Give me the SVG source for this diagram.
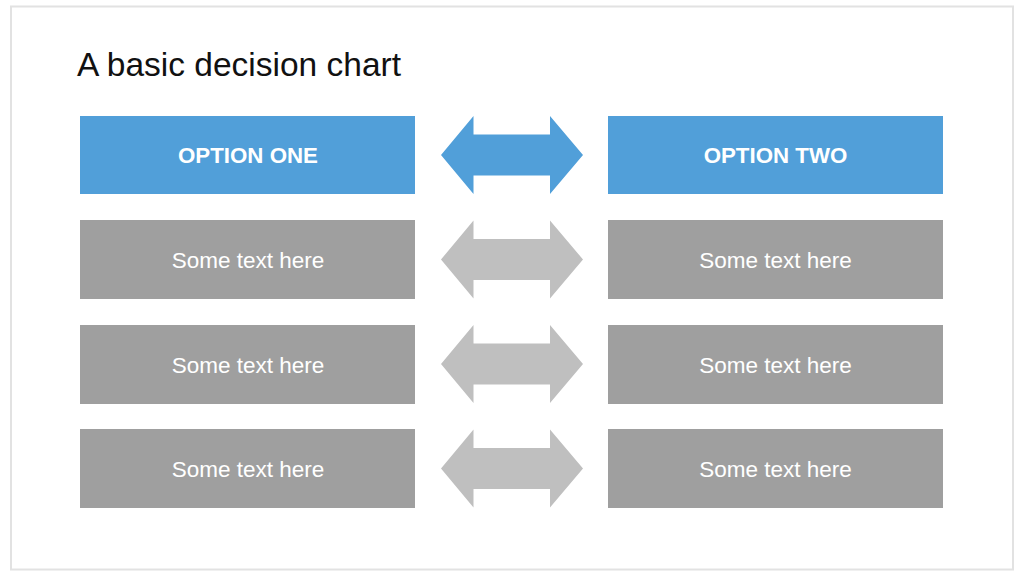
<svg xmlns="http://www.w3.org/2000/svg" width="1024" height="576" viewBox="0 0 1024 576">
<style>
.frame{fill:#fff;stroke:#e2e2e2;stroke-width:2}
.hdr{fill:#519fd9}
.cell{fill:#9f9f9f}
.title{font-family:"Liberation Sans",Arial,sans-serif;font-size:33.5px;fill:#111}
.ht{font-family:"Liberation Sans",Arial,sans-serif;font-size:22.3px;font-weight:bold;fill:#fff;text-anchor:middle}
.ct{font-family:"Liberation Sans",Arial,sans-serif;font-size:22.5px;fill:#fff;text-anchor:middle}
.ab{fill:#519fd9}
.ag{fill:#bfbfbf}
</style>
<defs>
<path id="dbl" d="M441,155 L473.5,116 L473.5,134.5 L550,134.5 L550,116 L583,155 L550,194 L550,175.5 L473.5,175.5 L473.5,194 Z"/>
</defs>
<rect width="1024" height="576" fill="#fff"/>
<rect class="frame" x="11" y="6.5" width="1002" height="563"/>
<text class="title" x="77" y="75.5">A basic decision chart</text>
<g id="connectors">
<use href="#dbl" class="ab"/>
<use href="#dbl" class="ag" y="104.5"/>
<use href="#dbl" class="ag" y="209"/>
<use href="#dbl" class="ag" y="313.5"/>
</g>
<g id="option-one"><rect class="hdr" x="80" y="116" width="335" height="78"/><text class="ht" x="248" y="163">OPTION ONE</text></g>
<g id="option-two"><rect class="hdr" x="608" y="116" width="335" height="78"/><text class="ht" x="775.5" y="163">OPTION TWO</text></g>
<g id="l1"><rect class="cell" x="80" y="220" width="335" height="79"/><text class="ct" x="248" y="267.5">Some text here</text></g>
<g id="r1"><rect class="cell" x="608" y="220" width="335" height="79"/><text class="ct" x="775.5" y="267.5">Some text here</text></g>
<g id="l2"><rect class="cell" x="80" y="325" width="335" height="79"/><text class="ct" x="248" y="372.5">Some text here</text></g>
<g id="r2"><rect class="cell" x="608" y="325" width="335" height="79"/><text class="ct" x="775.5" y="372.5">Some text here</text></g>
<g id="l3"><rect class="cell" x="80" y="429" width="335" height="79"/><text class="ct" x="248" y="476.5">Some text here</text></g>
<g id="r3"><rect class="cell" x="608" y="429" width="335" height="79"/><text class="ct" x="775.5" y="476.5">Some text here</text></g>
</svg>
